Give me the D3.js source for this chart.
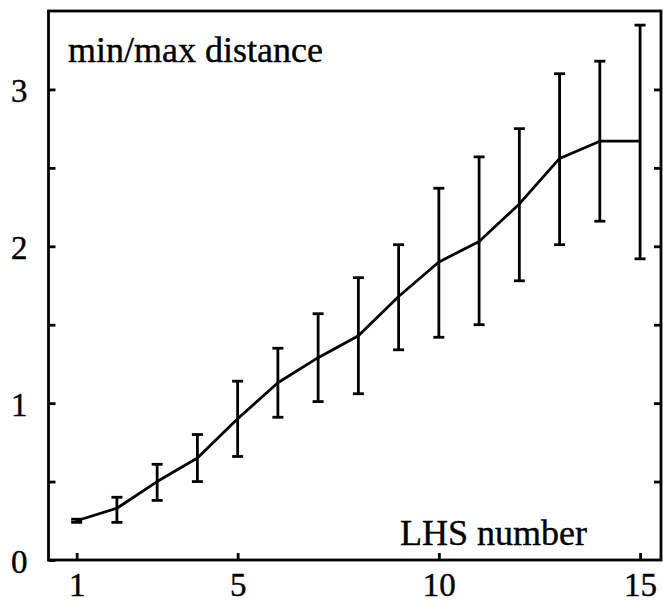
<!DOCTYPE html>
<html>
<head>
<meta charset="utf-8">
<script src="https://cdn.jsdelivr.net/npm/d3@7/dist/d3.min.js"></script>
<style>
  html, body { margin: 0; padding: 0; background: #fff; }
  svg { display: block; }
  text { font-family: "Liberation Serif", "Times New Roman", serif; fill: #000; stroke: #000; stroke-width: 0.4px; }
</style>
</head>
<body>
<svg id="chart" width="663" height="603"></svg>
<script>
// ---- data ----
const lhsNumber = [1, 2, 3, 4, 5, 6, 7, 8, 9, 10, 11, 12, 13, 14, 15];
const meanValue = [0.25, 0.33, 0.50, 0.65, 0.90, 1.13, 1.29, 1.43, 1.68, 1.90, 2.03, 2.27, 2.56, 2.67, 2.67];
const minValue  = [0.24, 0.24, 0.38, 0.50, 0.66, 0.91, 1.01, 1.06, 1.34, 1.42, 1.50, 1.78, 2.01, 2.16, 1.92];
const maxValue  = [0.26, 0.40, 0.61, 0.80, 1.14, 1.35, 1.57, 1.80, 2.01, 2.37, 2.57, 2.75, 3.10, 3.18, 3.41];
const xTickValues = [1, 5, 10, 15];
const yTickValues = [0, 0.5, 1, 1.5, 2, 2.5, 3];
const yLabel = "min/max distance";
const xLabel = "LHS number";

const svg = d3.select("#chart");
const mLeft = 48.5, mRight = 661, mTop = 11, mBottom = 560;

const x = d3.scaleLinear().domain([0.3, 15.52]).range([mLeft, mRight]);
const y = d3.scaleLinear().domain([0, 3.5]).range([mBottom, mTop]);

const sw = 2.8;

// frame
svg.append("rect")
  .attr("x", mLeft).attr("y", mTop)
  .attr("width", mRight - mLeft).attr("height", mBottom - mTop)
  .attr("fill", "none").attr("stroke", "#000").attr("stroke-width", sw);

// left axis
const yAxis = d3.axisLeft(y).tickValues(yTickValues).tickSize(-7).tickPadding(21)
  .tickFormat(d => Number.isInteger(d) ? d3.format("d")(d) : "");
const gy = svg.append("g").attr("transform", `translate(${mLeft},0)`).call(yAxis);
gy.select(".domain").remove();
gy.selectAll("line").attr("stroke-width", sw);
gy.selectAll("text").style("font-size", "33px").attr("dy", "0.38em");

// right axis ticks (inward)
const yAxisR = d3.axisRight(y).tickValues(yTickValues.filter(d => d > 0)).tickSize(-7).tickFormat("");
const gyr = svg.append("g").attr("transform", `translate(${mRight},0)`).call(yAxisR);
gyr.select(".domain").remove();
gyr.selectAll("line").attr("stroke-width", sw);

// bottom axis
const xAxis = d3.axisBottom(x).tickValues(xTickValues).tickSize(-7).tickPadding(13).tickFormat(d3.format("d"));
const gx = svg.append("g").attr("transform", `translate(0,${mBottom})`).call(xAxis);
gx.select(".domain").remove();
gx.selectAll("line").attr("stroke-width", sw);
gx.selectAll("text").style("font-size", "33px");

// error bars
const capW = 5.5;
const eb = svg.append("g").attr("stroke", "#000").attr("stroke-width", sw).attr("fill", "none");
lhsNumber.forEach((d, i) => {
  const cx = x(d);
  eb.append("line").attr("x1", cx).attr("x2", cx).attr("y1", y(minValue[i])).attr("y2", y(maxValue[i]));
  eb.append("line").attr("x1", cx - capW).attr("x2", cx + capW).attr("y1", y(minValue[i])).attr("y2", y(minValue[i]));
  eb.append("line").attr("x1", cx - capW).attr("x2", cx + capW).attr("y1", y(maxValue[i])).attr("y2", y(maxValue[i]));
});

// mean line
const line = d3.line().x((d, i) => x(lhsNumber[i])).y(d => y(d));
svg.append("path").datum(meanValue)
  .attr("d", line).attr("fill", "none").attr("stroke", "#000")
  .attr("stroke-width", sw).attr("stroke-linejoin", "round");

// labels
svg.append("text").attr("x", 68).attr("y", 62).style("font-size", "36px").text(yLabel);
svg.append("text").attr("x", 400).attr("y", 545).style("font-size", "36px").text(xLabel);
</script>
</body>
</html>
